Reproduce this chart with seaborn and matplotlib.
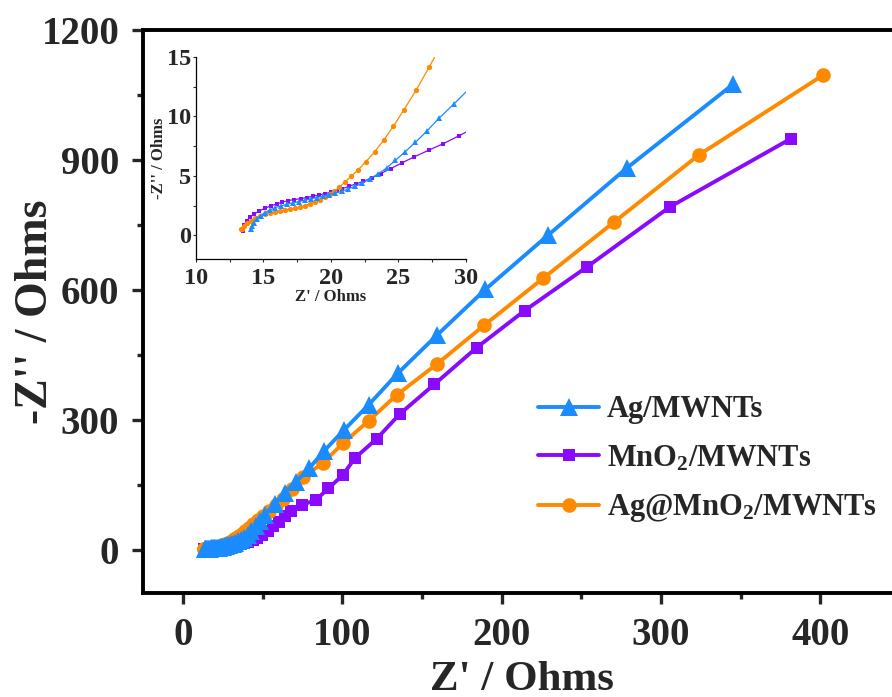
import numpy as np
import pandas as pd
import seaborn as sns
import matplotlib.pyplot as plt
from matplotlib.ticker import MultipleLocator

# Nyquist data (Z' / Ohms, -Z'' / Ohms)
ag_x = [14.05, 14.12, 14.27, 14.49, 14.79, 15.11, 15.48, 15.88, 16.30, 16.72,
        17.16, 17.60, 18.05, 18.49, 18.94, 19.38, 19.85, 20.32, 20.79, 21.28,
        21.78, 22.32, 22.89, 23.50, 24.12, 24.77, 25.48, 26.25, 27.09, 28.02,
        29.11, 30.3, 31.6, 33.0, 34.6, 36.4, 38.4, 40.6, 43.0, 45.6, 48.4,
        51.3, 57.7, 63.8, 71.0, 79.2, 88.8, 101.3, 116.6, 135.2, 159.5, 189.8,
        229.4, 278.5, 345.4]
ag_y = [0.53, 0.76, 1.07, 1.37, 1.65, 1.91, 2.13, 2.33, 2.47, 2.61,
        2.72, 2.83, 2.94, 3.06, 3.17, 3.28, 3.42, 3.56, 3.70, 3.90,
        4.12, 4.37, 4.77, 5.16, 5.66, 6.31, 7.01, 7.82, 8.75, 9.87,
        11.05, 12.4, 14.0, 16.0, 19.0, 23.0, 28.0, 35.0, 44.0, 54.0, 66.0,
        80.0, 106.0, 131.5, 157.0, 187.6, 228.7, 277.0, 334.6, 408.5, 495.5,
        601.0, 727.0, 881.0, 1075.0]

mn_x = [13.46, 13.51, 13.58, 13.75, 14.00, 14.32, 14.69, 15.11, 15.53, 15.98,
        16.40, 16.84, 17.28, 17.75, 18.20, 18.64, 19.11, 19.56, 19.98, 20.42,
        20.84, 21.33, 21.85, 22.40, 23.01, 23.68, 24.42, 25.23, 26.15, 27.23,
        28.32, 29.50, 30.9, 32.5, 34.3, 36.3, 38.6, 41.1, 43.8, 46.7, 49.8,
        53.2, 56.8, 60.4, 64.2, 68.0, 74.5, 83.8, 91.3, 100.2, 108.1, 121.6,
        136.3, 157.7, 184.4, 214.4, 253.6, 305.4, 381.4]
mn_y = [0.39, 0.53, 0.87, 1.21, 1.51, 1.79, 2.05, 2.27, 2.47, 2.64,
        2.78, 2.92, 3.00, 3.08, 3.17, 3.28, 3.39, 3.50, 3.62, 3.76,
        3.92, 4.12, 4.32, 4.54, 4.82, 5.19, 5.61, 6.08, 6.59, 7.15,
        7.71, 8.38, 9.2, 10.2, 11.5, 13.2, 15.5, 18.5, 22.5, 28.0, 35.0,
        44.0, 54.0, 65.0, 77.0, 89.0, 102.5, 115.9, 141.5, 171.7, 212.0, 256.0,
        313.9, 381.5, 466.7, 551.8, 653.0, 791.0, 948.8]

agmn_x = [13.32, 13.38, 13.58, 13.80, 14.05, 14.37, 14.74, 15.11, 15.48, 15.85,
          16.22, 16.60, 16.96, 17.33, 17.70, 18.07, 18.44, 18.81, 19.19, 19.56,
          19.93, 20.25, 20.62, 21.01, 21.48, 22.02, 22.59, 23.23, 23.90, 24.62,
          25.41, 26.30, 27.28, 28.3, 29.4, 30.6, 31.9, 33.4, 35.1, 37.0, 39.2,
          41.6, 44.3, 47.3, 50.6, 54.3, 58.3, 62.8, 68.4, 75.7, 88.0, 100.6,
          116.6, 134.1, 159.5, 189.0, 226.2, 270.8, 323.6, 401.6]
agmn_y = [0.55, 0.53, 0.76, 1.00, 1.23, 1.46, 1.65, 1.79, 1.88, 1.93,
          2.02, 2.10, 2.19, 2.27, 2.38, 2.50, 2.64, 2.80, 3.00, 3.22,
          3.48, 3.70, 4.04, 4.46, 4.96, 5.52, 6.20, 7.01, 7.99, 9.17,
          10.57, 12.20, 14.16, 16.3, 18.6, 21.2, 24.2, 27.8, 32.0, 37.0, 43.0,
          50.0, 58.5, 68.0, 78.5, 90.0, 103.0, 118.0, 141.0, 168.0, 200.8, 246.0,
          297.7, 357.0, 428.8, 518.0, 627.0, 757.0, 911.0, 1095.5]

labels = ['Ag/MWNTs', 'MnO$_\\mathrm{2}$/MWNTs', 'Ag@MnO$_\\mathrm{2}$/MWNTs']
colors = ['#1A8CFF', '#8A0AFF', '#FF8A00']
markers = ['^', 's', 'o']
main_ms = [13, 9, 10.5]
inset_ms = [4.2, 3.4, 3.8]
zorders = [4, 2, 3]

series = [(ag_x, ag_y), (mn_x, mn_y), (agmn_x, agmn_y)]

sns.set_theme(style='ticks')
plt.rcParams['font.family'] = ['Liberation Serif', 'DejaVu Serif']
plt.rcParams['font.weight'] = 'bold'
plt.rcParams['axes.labelweight'] = 'bold'
plt.rcParams['mathtext.fontset'] = 'custom'
plt.rcParams['mathtext.rm'] = 'Liberation Serif:bold'
plt.rcParams['mathtext.bf'] = 'Liberation Serif:bold'
plt.rcParams['mathtext.it'] = 'Liberation Serif:bold:italic'

fig = plt.figure(figsize=(8.92, 6.97), dpi=100)
ax = fig.add_axes([0.1603, 0.1492, 0.8487, 0.8078])

for (x, y), lab, c, m, ms, z in zip(series, labels, colors, markers, main_ms, zorders):
    df = pd.DataFrame({'x': x, 'y': y})
    sns.lineplot(data=df, x='x', y='y', sort=False, estimator=None, ax=ax,
                 color=c, linewidth=2.8, marker=m, markersize=ms,
                 markeredgewidth=0, label=lab, zorder=z, legend=False)

ax.set_xlim(-25, 450)
ax.set_ylim(-100, 1200)
ax.xaxis.set_major_locator(MultipleLocator(100))
ax.xaxis.set_minor_locator(MultipleLocator(50))
ax.yaxis.set_major_locator(MultipleLocator(300))
ax.yaxis.set_minor_locator(MultipleLocator(150))
ax.tick_params(which='both', direction='out', width=2.4, labelsize=28, top=False, right=False)
ax.tick_params(which='major', length=8)
ax.tick_params(which='minor', length=4.5)
ax.tick_params(axis='x', which='major', pad=9)
ax.tick_params(axis='y', which='major', pad=9)
for sp in ax.spines.values():
    sp.set_linewidth(2.8)
    sp.set_color('black')
ax.set_xlabel("Z' / Ohms", fontsize=31, labelpad=5)
ax.set_ylabel("-Z'' / Ohms", fontsize=33)
ax.yaxis.set_label_coords(-0.113, 0.5)

ax.legend(loc='upper left', bbox_to_anchor=(0.522, 0.351), frameon=False,
          fontsize=22, handlelength=2.0, handletextpad=0.25, labelspacing=0.63,
          borderpad=0, borderaxespad=0, numpoints=1)

# inset: zoom on the high-frequency semicircle
ins = fig.add_axes([0.2197, 0.6284, 0.3027, 0.2898])
for (x, y), c, m, ms, z in zip(series, colors, markers, inset_ms, zorders):
    df = pd.DataFrame({'x': x, 'y': y})
    sns.lineplot(data=df, x='x', y='y', sort=False, estimator=None, ax=ins,
                 color=c, linewidth=0.9, marker=m, markersize=ms,
                 markeredgewidth=0, zorder=z, legend=False)
ins.set_xlim(10, 30)
ins.set_ylim(-2, 15)
ins.xaxis.set_major_locator(MultipleLocator(5))
ins.xaxis.set_minor_locator(MultipleLocator(2.5))
ins.yaxis.set_major_locator(MultipleLocator(5))
ins.yaxis.set_minor_locator(MultipleLocator(2.5))
ins.spines['top'].set_visible(False)
ins.spines['right'].set_visible(False)
for sp in ['left', 'bottom']:
    ins.spines[sp].set_linewidth(0.9)
    ins.spines[sp].set_color('black')
ins.tick_params(which='both', direction='out', width=0.8, labelsize=17.5)
ins.tick_params(which='major', length=2.5)
ins.tick_params(which='minor', length=2)
ins.tick_params(axis='x', which='major', pad=4)
ins.tick_params(axis='y', which='major', pad=1)
ins.set_xlabel("Z' / Ohms", fontsize=12, labelpad=0)
ins.set_ylabel("-Z'' / Ohms", fontsize=12, labelpad=0)
ins.patch.set_alpha(0)

fig.savefig('out.png', dpi=100)
